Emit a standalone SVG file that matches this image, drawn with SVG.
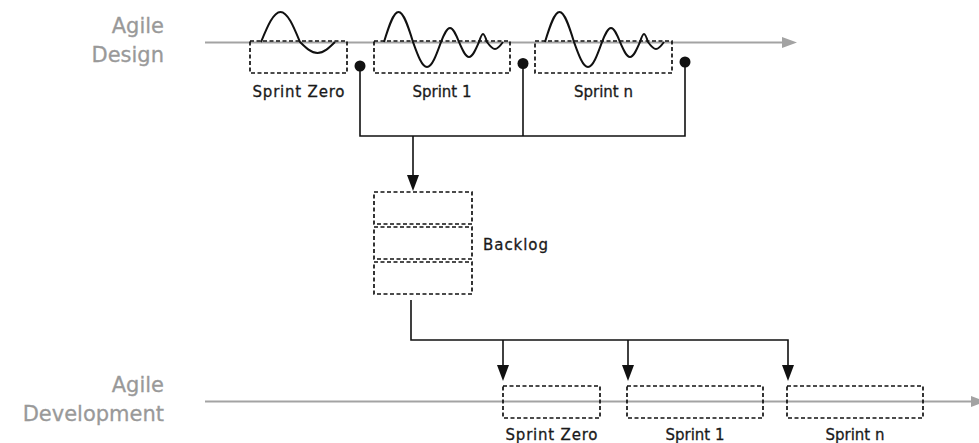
<svg xmlns="http://www.w3.org/2000/svg" width="979" height="443" viewBox="0 0 979 443">
  <style>
    .axis { stroke: #a3a3a3; stroke-width: 2; fill: none; }
    .axhead { fill: #a3a3a3; }
    .box { fill: none; stroke: #111; stroke-width: 1.7; stroke-dasharray: 4 2.5; }
    .wave { fill: none; stroke: #111; stroke-width: 2; }
    .conn { fill: none; stroke: #111; stroke-width: 1.6; }
    .head { fill: #111; }
    .lbl { font-family: "DejaVu Sans", "Liberation Sans", sans-serif; font-size: 15px; fill: #1a1a1a; stroke: #1a1a1a; stroke-width: 0.3; text-anchor: middle; }
    .axlbl { font-family: "DejaVu Sans", "Liberation Sans", sans-serif; font-size: 21px; fill: #999; stroke: #999; stroke-width: 0.3; text-anchor: end; }
  </style>
  <defs>
    <path id="wave1" class="wave" d="M384,42 C388.7,26.6 393.3,12 398.5,12 C403.7,12 408.3,26.6 413,42 C417.6,54.8 421.9,67 427,67 C432.1,67 436.4,54.8 441,42 C443.9,34.8 446.7,28 450,28 C453.3,28 456.1,34.8 459,42 C462.3,49.7 465.4,57 469,57 C472.6,57 475.7,49.7 479,42 C480.3,37.9 481.6,34 483,34 C484.4,34 485.7,37.9 487,42 C489.6,45.6 492.1,49 495,49 C497.9,49 500.4,45.6 503,42"/>
  </defs>

  <!-- Axes -->
  <g id="axis-design">
    <line class="axis" x1="205" y1="42.5" x2="784" y2="42.5"/>
    <polygon class="axhead" points="782,37 797,42.5 782,48"/>
    <text class="axlbl" x="164" y="33">Agile</text>
    <text class="axlbl" x="164" y="62">Design</text>
  </g>
  <g id="axis-development">
    <line class="axis" x1="205" y1="401.5" x2="972" y2="401.5"/>
    <polygon class="axhead" points="971,396 986,401.5 971,407"/>
    <text class="axlbl" x="164" y="392">Agile</text>
    <text class="axlbl" x="164" y="421">Development</text>
  </g>

  <!-- Design sprints -->
  <g id="design-sprint-zero">
    <path class="wave" d="M261,42 C267.4,26.6 273.4,12 280.5,12 C287.6,12 293.6,26.6 300,42 C305.7,47.6 311.2,53 317.5,53 C323.8,53 329.3,47.6 335,42"/>
    <rect class="box" x="250" y="41" width="97" height="32"/>
    <text class="lbl" x="298.5" y="97" textLength="92">Sprint Zero</text>
  </g>
  <g id="design-sprint-1">
    <use href="#wave1"/>
    <rect class="box" x="374" y="41" width="136" height="32"/>
    <text class="lbl" x="442" y="97">Sprint 1</text>
  </g>
  <g id="design-sprint-n">
    <use href="#wave1" transform="translate(161,0)"/>
    <rect class="box" x="535" y="41" width="137" height="32"/>
    <text class="lbl" x="603.5" y="97">Sprint n</text>
  </g>

  <!-- Backlog -->
  <g id="backlog">
    <rect class="box" x="374" y="192" width="98" height="32"/>
    <rect class="box" x="374" y="227" width="98" height="32"/>
    <rect class="box" x="374" y="262" width="98" height="32"/>
    <text class="lbl" x="483" y="250" style="text-anchor:start" textLength="65">Backlog</text>
  </g>

  <!-- Development sprints -->
  <g id="dev-sprint-zero">
    <rect class="box" x="503" y="386" width="97" height="32"/>
    <text class="lbl" x="551.5" y="440" textLength="92">Sprint Zero</text>
  </g>
  <g id="dev-sprint-1">
    <rect class="box" x="627" y="386" width="136" height="32"/>
    <text class="lbl" x="695" y="440">Sprint 1</text>
  </g>
  <g id="dev-sprint-n">
    <rect class="box" x="787" y="386" width="136" height="32"/>
    <text class="lbl" x="855" y="440">Sprint n</text>
  </g>

  <!-- Connectors -->
  <g id="connectors">
    <circle class="head" cx="360" cy="66" r="5.5"/>
    <circle class="head" cx="523" cy="63.5" r="5.5"/>
    <circle class="head" cx="685" cy="62" r="5.5"/>
    <polyline class="conn" points="360,66 360,136 685,136 685,62"/>
    <line class="conn" x1="523" y1="63.5" x2="523" y2="136"/>
    <line class="conn" x1="413" y1="136" x2="413" y2="177"/>
    <polygon class="head" points="407,175 419,175 413,191"/>

    <polyline class="conn" points="411,300 411,340 788,340 788,367"/>
    <line class="conn" x1="503" y1="340" x2="503" y2="367"/>
    <line class="conn" x1="628" y1="340" x2="628" y2="367"/>
    <polygon class="head" points="497,365 509,365 503,381"/>
    <polygon class="head" points="622,365 634,365 628,381"/>
    <polygon class="head" points="782,365 794,365 788,381"/>
  </g>
</svg>
